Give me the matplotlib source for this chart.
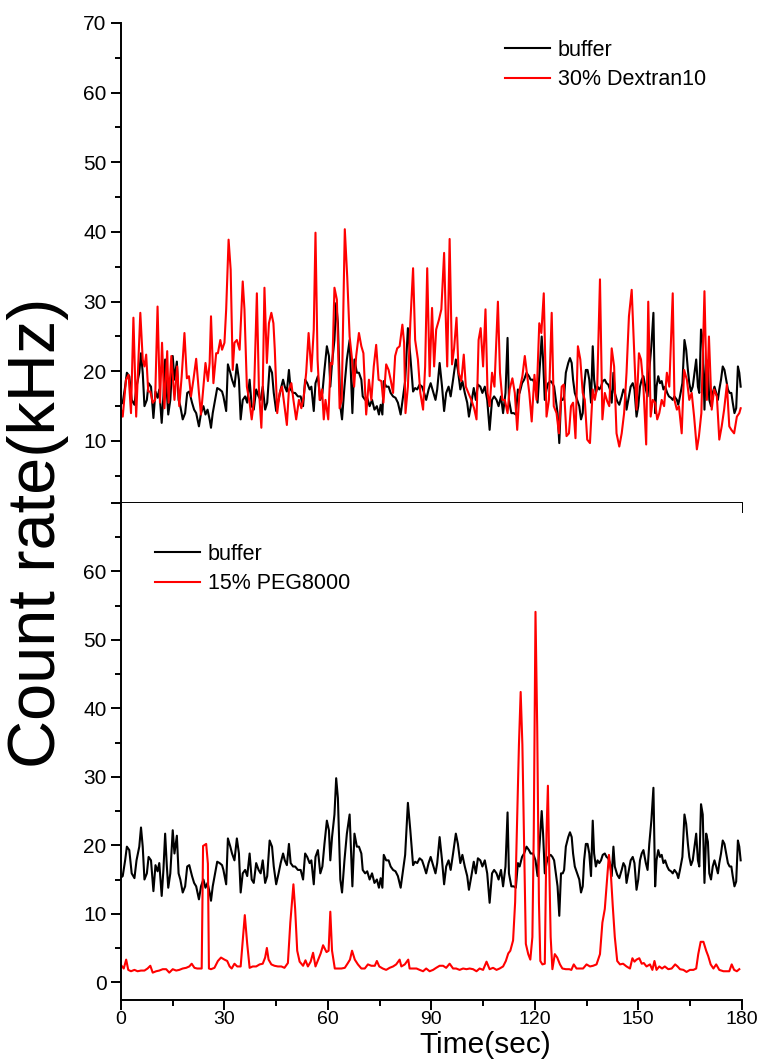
import matplotlib
matplotlib.use("Agg")
import matplotlib.pyplot as plt
from matplotlib.ticker import MultipleLocator, FixedLocator

plt.rcParams['font.family'] = ['Liberation Sans', 'DejaVu Sans']

# ---------------- data ----------------
buffer_t = [0.0,0.5,1.2,1.7,2.4,3.1,3.9,4.5,5.3,5.8,6.3,6.8,7.5,8.0,8.7,9.4,10.0,10.6,11.1,11.8,12.3,12.8,13.3,13.7,14.3,15.0,15.5,16.2,16.7,17.2,17.9,18.6,19.2,19.8,20.6,21.2,21.8,22.6,23.2,23.9,24.5,25.1,25.7,26.1,26.6,27.3,27.9,28.6,29.3,29.7,30.5,31.0,31.7,32.2,32.9,33.6,34.2,34.7,35.3,36.0,36.6,37.3,37.9,38.5,39.2,39.9,40.5,41.1,41.8,42.4,43.1,43.8,44.3,45.0,45.7,46.3,47.0,47.5,48.1,48.7,49.2,49.9,50.5,51.3,52.1,52.8,53.4,54.0,54.7,55.2,55.9,56.4,57.1,57.8,58.4,59.0,59.7,60.3,60.7,61.2,61.9,62.4,62.9,63.6,64.1,64.8,65.5,66.3,67.1,67.7,68.4,69.0,69.7,70.1,70.8,71.4,72.1,72.8,73.5,74.2,74.8,75.3,75.8,76.2,76.9,77.6,78.2,78.9,79.6,80.3,81.1,81.8,82.4,83.2,83.9,84.7,85.3,85.9,86.6,87.3,87.9,88.5,89.2,89.8,90.5,91.2,91.7,92.4,93.1,93.7,94.3,95.0,95.6,96.3,97.1,97.7,98.4,99.0,99.7,100.4,100.9,101.6,102.3,102.9,103.5,104.2,104.8,105.5,106.2,106.9,107.6,108.2,108.9,109.5,110.2,110.8,111.5,112.1,112.5,113.2,113.9,114.5,115.1,115.6,116.3,116.9,117.6,118.3,118.8,119.5,120.2,120.8,121.5,122.0,122.4,122.9,123.4,123.9,124.6,125.1,125.6,126.1,126.6,127.1,127.6,128.1,128.5,129.0,129.7,130.2,130.7,131.1,131.6,132.3,132.9,133.4,133.9,134.3,134.8,135.3,135.8,136.3,136.8,137.2,137.7,138.2,138.7,139.2,139.7,140.3,140.8,141.3,141.8,142.3,142.8,143.2,143.9,144.5,145.2,145.7,146.2,146.6,147.1,147.8,148.4,148.9,149.5,150.0,150.5,151.0,151.5,152.2,152.7,153.2,153.8,154.4,154.9,155.3,155.8,156.3,156.8,157.3,157.8,158.4,158.9,159.5,160.0,160.5,161.2,161.6,162.1,162.8,163.4,163.9,164.4,164.8,165.3,165.8,166.3,166.8,167.3,167.7,168.2,168.7,169.2,169.7,170.2,170.6,171.1,171.6,172.1,172.6,173.1,173.5,174.0,174.5,175.0,175.5,176.0,176.5,177.0,177.4,177.9,178.4,178.9,179.3,179.7]
buffer_v = [15.3,15.5,17.8,19.8,19.3,15.9,15.2,17.8,19.8,22.6,19.8,15.0,15.9,18.3,17.8,13.3,17.1,16.2,17.4,12.6,16.4,21.7,16.9,13.8,15.9,22.2,18.8,21.4,15.9,15.0,13.1,14.0,16.9,17.1,15.5,14.5,14.0,12.1,14.0,15.0,13.8,14.5,13.1,11.9,14.0,15.9,17.6,17.4,17.1,16.4,14.3,21.0,19.8,18.8,17.8,21.0,18.8,13.1,15.9,16.4,15.5,18.8,15.0,14.5,17.4,16.4,15.9,17.8,14.5,15.5,20.7,19.8,16.9,14.3,15.9,17.4,18.8,17.8,17.1,20.2,17.4,16.9,16.9,16.4,16.4,15.0,18.8,18.3,17.4,17.8,14.3,18.3,19.3,15.9,16.9,20.2,23.6,22.2,17.8,21.2,24.5,29.8,26.9,15.0,13.1,17.8,21.7,24.5,14.0,21.7,19.8,19.8,18.8,16.4,15.9,16.2,15.0,15.9,14.5,15.0,13.8,15.2,13.8,18.6,17.8,17.8,16.9,16.4,16.2,15.5,13.8,16.4,18.6,26.2,22.2,17.1,17.6,17.4,18.1,17.8,16.9,15.9,17.4,18.3,17.1,15.9,17.4,21.2,17.8,14.3,16.9,17.8,16.4,18.8,21.7,20.2,17.4,18.6,16.9,15.5,13.5,15.5,17.6,15.9,18.1,17.8,16.9,17.8,15.9,11.6,15.9,16.4,15.9,15.0,16.4,14.0,16.9,24.8,15.9,14.0,14.0,13.8,17.4,16.9,18.3,18.8,19.8,19.3,18.8,18.8,17.8,15.5,21.0,25.0,21.7,15.9,17.4,18.3,18.6,18.3,17.8,15.9,14.0,9.7,15.9,15.9,16.4,19.8,21.2,21.9,21.2,18.8,16.9,15.9,15.0,13.1,14.0,17.8,20.2,20.2,18.8,15.5,23.6,18.8,16.9,17.8,17.4,17.8,18.6,18.8,18.3,18.1,17.4,15.5,19.8,16.9,15.7,15.2,16.4,17.4,16.9,14.5,15.9,17.8,18.3,17.4,13.5,15.0,17.8,18.8,19.3,17.4,16.4,20.2,23.6,28.4,14.0,17.8,19.3,18.3,18.6,17.4,17.8,16.9,16.4,16.2,15.9,16.4,15.9,15.2,16.4,18.3,24.5,23.1,20.2,18.3,17.1,17.8,19.8,21.7,17.8,16.9,26.0,24.5,14.5,21.7,20.5,15.9,15.0,16.9,17.8,16.9,15.9,17.4,18.8,20.7,20.2,18.8,17.4,16.9,16.9,15.5,14.0,14.7,20.7,19.8,17.8]

dextran_t = [0.0,0.5,1.45,2.2,2.9,3.6,4.4,5.6,6.3,6.8,7.3,7.9,8.5,9.2,9.9,10.6,11.3,11.9,12.6,13.4,13.8,14.6,15.5,16.3,16.9,17.6,18.4,19.1,19.7,20.3,21.0,21.8,22.6,23.2,23.9,24.5,25.2,25.7,26.1,26.8,27.6,28.1,28.8,29.3,30.0,30.5,31.2,31.8,32.4,32.9,33.6,34.4,35.3,35.8,36.5,37.3,37.9,38.5,39.4,40.0,40.7,41.1,41.6,42.3,42.9,43.6,44.2,44.6,45.3,46.0,46.7,47.4,48.1,48.7,49.4,50.0,50.8,51.6,52.3,53.0,53.7,54.4,55.2,55.9,56.4,57.0,57.6,58.3,58.8,59.3,60.1,60.8,61.3,61.9,62.6,63.4,64.0,64.9,65.6,66.3,67.0,67.6,68.2,69.0,69.7,70.3,71.1,71.9,72.6,73.3,74.0,74.7,75.5,76.1,76.9,77.6,78.2,78.9,79.5,80.1,80.8,81.6,82.1,82.5,83.2,83.9,84.7,85.3,86.1,86.8,87.6,88.2,88.8,89.5,90.2,90.8,91.4,92.2,92.9,93.7,94.2,94.6,95.3,96.0,96.6,97.3,97.9,98.7,99.4,100.0,100.9,101.6,102.4,103.1,103.7,104.3,105.0,105.7,106.3,106.9,107.6,108.3,109.3,109.9,110.6,111.3,112.1,112.7,113.5,114.2,114.9,115.6,116.4,117.1,117.8,118.4,119.1,119.9,120.5,121.3,121.9,122.6,123.4,124.1,124.9,125.5,126.3,127.0,127.8,128.4,129.2,129.9,130.5,131.1,131.8,132.5,133.2,133.9,134.5,135.2,136.0,136.8,137.4,138.1,138.9,139.6,140.3,141.0,141.6,142.3,143.0,143.7,144.5,145.2,145.9,146.6,147.3,148.1,148.8,149.5,150.2,150.8,151.5,152.3,152.9,153.6,154.2,154.9,155.5,156.1,156.8,157.5,158.3,159.0,160.0,160.5,161.2,161.8,162.6,163.3,164.1,164.8,165.5,166.2,167.0,167.6,168.3,169.2,169.9,170.5,171.3,172.0,172.8,173.5,174.2,174.9,175.7,176.4,177.0,177.8,178.6,179.3,179.7]
dextran_v = [14.5,13.5,18.8,19.5,14.0,27.7,13.5,28.4,21.7,20.7,22.4,17.1,17.1,15.5,15.9,29.3,15.5,24.1,14.7,22.9,15.5,22.2,15.9,20.7,15.0,19.3,25.5,19.0,19.3,16.4,18.8,21.8,16.9,13.8,17.8,21.2,18.6,21.2,27.9,18.3,22.6,22.6,24.5,23.1,24.1,28.9,38.9,34.6,20.2,24.1,24.5,23.1,32.9,28.9,17.8,15.5,13.1,15.5,31.2,17.4,11.9,17.4,32.0,21.2,26.9,28.4,26.9,23.1,14.0,16.9,17.8,15.0,12.3,17.4,18.3,15.9,13.1,15.9,14.7,16.4,19.8,25.5,20.0,26.0,39.9,21.7,15.9,17.4,13.1,15.9,13.1,21.2,21.0,32.0,30.3,14.7,15.9,40.4,33.6,25.0,21.7,17.8,22.2,25.5,23.6,22.6,13.8,18.8,15.9,20.7,23.8,18.8,18.6,15.5,21.0,20.2,18.8,16.9,22.2,23.3,23.6,26.7,24.1,14.0,17.8,26.9,34.8,24.5,21.7,16.9,14.5,20.7,34.8,19.3,29.1,20.7,26.0,27.4,28.9,37.0,27.4,20.7,39.0,21.0,23.3,27.7,19.8,18.6,22.4,17.8,16.7,15.9,14.7,13.1,24.5,26.2,20.7,28.9,16.9,15.0,19.8,17.8,30.0,19.8,15.9,15.9,14.0,17.4,19.0,16.9,11.6,17.4,19.3,22.2,19.3,16.9,12.8,19.5,15.9,26.9,25.5,31.2,13.5,15.9,28.4,15.0,14.0,11.1,17.8,18.1,10.7,11.1,15.0,15.5,10.4,23.6,21.7,16.9,15.9,10.2,9.7,17.4,15.9,17.8,33.2,13.1,16.9,15.7,15.0,23.3,20.7,11.1,9.2,11.1,14.0,19.8,27.9,31.7,23.1,14.5,22.6,21.7,17.8,9.5,30.0,13.5,15.9,15.5,13.1,14.0,15.9,15.0,19.8,17.8,31.2,15.9,14.5,15.0,11.1,20.2,18.8,15.9,16.9,13.5,8.8,10.7,14.0,31.5,15.9,25.0,14.5,17.4,16.4,10.2,12.1,14.5,18.1,12.1,11.6,11.1,13.5,14.0,14.7]

peg_t = [0.0,0.8,1.5,2.1,2.9,3.9,4.8,5.8,6.8,7.7,8.5,9.2,10.2,11.1,12.1,13.1,14.0,15.0,16.0,16.9,17.9,18.9,19.8,20.5,21.3,22.1,22.7,23.4,23.8,24.7,25.2,25.5,26.1,27.1,28.1,29.0,30.0,30.8,31.5,32.1,32.9,33.7,34.7,35.3,35.9,36.6,37.3,38.2,39.2,40.2,41.1,41.8,42.3,42.8,43.6,44.5,45.5,46.5,47.4,48.4,49.1,50.0,50.5,51.1,51.8,52.8,53.5,54.2,55.0,55.7,56.4,57.1,57.9,58.6,59.6,60.2,60.7,61.2,62.0,62.9,63.9,64.9,65.8,66.4,67.0,67.8,68.7,69.7,70.7,71.6,72.6,73.6,74.2,74.9,75.9,76.9,77.9,78.9,79.8,80.8,81.3,82.3,83.3,83.7,84.7,85.7,86.6,87.6,88.5,89.5,90.5,91.4,92.4,93.4,94.3,95.3,96.3,97.2,98.2,99.2,100.2,101.1,102.1,103.1,104.0,105.0,106.0,106.9,107.9,108.9,109.8,110.8,111.6,112.3,112.9,113.7,114.3,114.9,115.4,115.9,116.4,117.0,117.4,118.1,118.7,119.3,119.7,120.2,120.7,121.2,121.6,122.2,122.9,123.4,123.8,124.2,124.6,125.1,125.8,126.5,127.3,128.0,129.0,130.0,130.6,131.3,132.1,133.1,134.0,135.0,136.0,136.9,137.9,138.9,139.6,140.3,141.0,141.5,142.0,142.6,143.2,143.9,144.7,145.6,146.6,147.6,148.3,148.9,149.5,150.3,151.0,151.6,152.4,153.4,154.1,154.7,155.3,156.1,156.9,157.7,158.7,159.7,160.7,161.4,162.1,163.1,164.0,165.0,166.0,166.8,167.4,168.1,168.9,169.7,170.3,171.0,171.8,172.6,173.5,174.7,175.7,176.4,177.1,177.8,178.6,179.3]
peg_v = [2.5,2.0,3.3,1.8,1.6,1.8,1.6,1.7,1.7,2.0,2.4,1.4,1.6,1.7,1.9,1.9,1.4,1.9,1.7,1.8,2.0,2.1,2.3,2.7,2.1,2.0,2.0,2.0,19.9,20.2,17.3,2.0,1.9,2.1,3.1,3.6,3.3,3.1,2.3,2.0,2.7,2.3,2.3,6.1,9.8,5.6,2.1,2.3,2.3,2.6,2.7,3.6,5.0,3.3,2.6,2.4,2.3,2.3,2.1,2.8,8.7,14.3,10.7,4.6,3.0,2.4,3.2,2.3,3.0,4.3,2.3,3.2,4.2,5.4,4.4,4.6,10.3,4.6,2.0,2.0,2.0,2.1,2.8,3.3,4.6,3.3,2.6,2.0,2.0,2.6,2.4,2.4,3.1,2.3,2.0,1.8,2.1,2.3,2.6,3.3,2.3,2.6,3.3,2.0,2.0,2.0,1.8,1.6,2.0,1.6,1.8,2.1,2.4,2.4,2.1,2.7,2.0,2.0,1.8,2.0,1.9,2.0,1.9,1.6,2.0,1.8,3.0,1.9,2.1,1.8,2.0,2.3,3.1,4.2,4.6,6.1,11.7,24.5,34.7,42.4,34.7,16.8,5.6,4.1,3.3,6.6,21.9,54.1,37.2,11.7,3.1,2.6,2.7,21.9,28.7,16.8,6.6,1.9,4.1,3.6,2.6,2.0,1.9,1.9,1.8,2.6,2.0,2.0,2.0,2.6,2.3,2.4,2.6,4.1,8.7,10.7,15.3,18.6,16.3,11.2,6.6,3.1,2.6,2.7,2.3,2.0,3.5,3.0,3.3,3.5,2.7,2.8,2.3,2.6,1.8,3.1,1.8,2.3,2.0,2.3,1.9,2.0,2.6,2.3,1.9,1.8,1.5,1.8,1.8,2.0,4.1,5.9,5.9,4.6,3.8,2.6,2.0,2.6,1.8,1.6,1.6,1.6,2.6,1.8,1.6,1.9]

x_ticks = [0, 30, 60, 90, 120, 150, 180]
top_labels = ["buffer", "30% Dextran10"]
bottom_labels = ["buffer", "15% PEG8000"]

# ---------------- figure ----------------
W, H = 764, 1063
fig = plt.figure(figsize=(W / 100, H / 100), dpi=100)
left, right = 121 / W, 741.7 / W
ax_top = fig.add_axes([left, 1 - 503 / H, right - left, (503 - 23) / H])
ax_bot = fig.add_axes([left, 1 - 1000 / H, right - left, (1000 - 503) / H])

lw = 1.5
ax_top.plot(buffer_t, buffer_v, color="black", lw=lw, label=top_labels[0])
ax_top.plot(dextran_t, dextran_v, color="red", lw=lw, label=top_labels[1])
ax_bot.plot(buffer_t, buffer_v, color="black", lw=lw, label=bottom_labels[0])
ax_bot.plot(peg_t, peg_v, color="red", lw=lw, label=bottom_labels[1])

for ax in (ax_top, ax_bot):
    ax.set_xlim(0, 180)
    ax.spines["top"].set_visible(False)
    ax.spines["right"].set_visible(False)
    for s in ("left", "bottom"):
        ax.spines[s].set_linewidth(1.4)
    ax.xaxis.set_major_locator(FixedLocator(x_ticks))
    ax.xaxis.set_minor_locator(MultipleLocator(15))
    ax.yaxis.set_minor_locator(MultipleLocator(5))
    ax.tick_params(which="major", direction="out", length=7.5, width=1.4, labelsize=15, pad=3)
    ax.tick_params(which="minor", direction="out", length=4.5, width=1.4)

ax_bot.tick_params(axis="x", which="major", length=7, pad=1, labelsize=14)

ax_top.set_ylim(1.1, 70)
ax_top.yaxis.set_major_locator(FixedLocator([10, 20, 30, 40, 50, 60, 70]))
ax_top.tick_params(axis="x", labelbottom=False)

ax_bot.set_ylim(-2.6, 70)
ax_bot.yaxis.set_major_locator(FixedLocator([0, 10, 20, 30, 40, 50, 60, 70]))
ax_bot.set_yticklabels(["0", "10", "20", "30", "40", "50", "60", ""])

leg_kw = dict(frameon=False, fontsize=15.5, handlelength=2.1, handletextpad=0.35,
              labelspacing=0.4, borderpad=0, borderaxespad=0, loc="upper left")
ax_top.legend(bbox_to_anchor=(0.619, 0.965), **leg_kw)
ax_bot.legend(bbox_to_anchor=(0.055, 0.918), **leg_kw)

fig.text(0.05, 0.4986, "Count rate(kHz)", rotation=90, ha="center", va="center", fontsize=48)
fig.text(485 / W, 1 - 1031 / H, "Time(sec)", ha="center", va="top", fontsize=21.5)

fig.savefig("out.png", dpi=100)
